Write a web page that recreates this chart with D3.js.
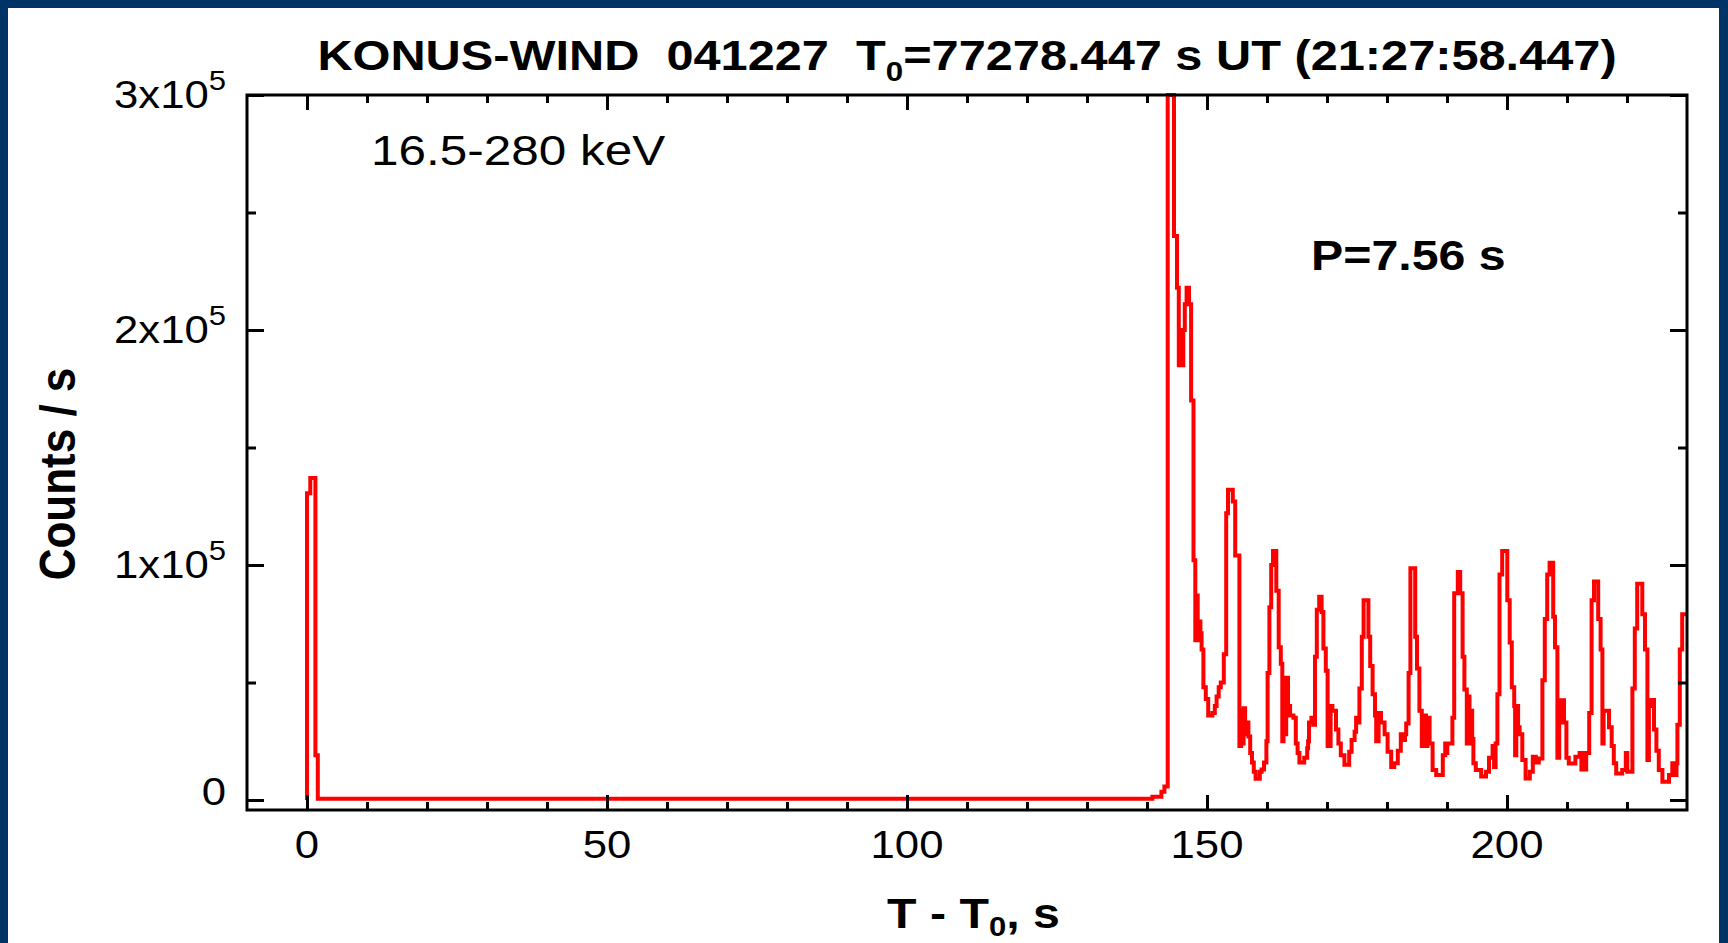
<!DOCTYPE html>
<html>
<head>
<meta charset="utf-8">
<title>KONUS-WIND 041227</title>
<script src="https://cdn.jsdelivr.net/npm/d3@7"></script>
<style>
  body { margin: 0; background: #ffffff; }
  svg { display: block; }
  text { font-family: "Liberation Sans", Arial, Helvetica, sans-serif; fill: #000; white-space: pre; }
</style>
</head>
<body>
<svg id="chart" width="1728" height="943"></svg>
<script>
// ---- Light curve, 16.5-280 keV: [time since T0 (s), counts / s], step-after bins ----
const precursorSpike = [[0, 0], [0, 130500], [0.55, 137000], [1.4, 19000], [1.8, 500]];
const preFlareRise = [[140.9, 1400], [142.4, 3500], [142.9, 5700]];
const mainSpike = [
  [143.45, 400000], [144.5, 240000], [145.0, 218000], [145.3, 185000], [145.6, 200000],
  [145.85, 185000], [146.05, 200000], [146.3, 211000], [146.6, 218000], [147.0, 211000],
  [147.35, 170000], [147.75, 102000], [148.05, 68000], [148.25, 87000], [148.45, 68000],
  [148.65, 76000], [148.9, 71000], [149.1, 64000], [149.4, 48000], [149.8, 43000],
  [150.2, 36000], [150.9, 37000], [151.3, 40000], [151.6, 44000], [151.95, 48000],
  [152.3, 50000], [152.8, 62000]
];
const pulsatingTail = [
  [153.2, 122000], [153.5, 132000], [154.3, 127000], [154.7, 104000], [155.4, 23000],
  [155.7, 38000], [155.9, 24000], [156.1, 39000], [156.35, 28000], [156.6, 33000],
  [156.9, 27000], [157.2, 20000], [157.5, 16000], [157.8, 12000], [158.1, 9000],
  [158.8, 12000], [159.1, 13000], [159.5, 16000], [159.9, 25000], [160.1, 54000],
  [160.4, 82000], [160.7, 100000], [161.0, 106000], [161.55, 89000], [161.95, 65000],
  [162.3, 58000], [162.55, 25000], [162.75, 50000], [162.95, 28000], [163.2, 52000],
  [163.5, 40000], [163.85, 36000], [164.4, 35000], [164.8, 24000], [165.1, 20000],
  [165.4, 16000], [166.2, 18000], [166.7, 22000], [166.85, 25000], [167.0, 33000],
  [167.4, 35000], [167.7, 32000], [168.0, 61000], [168.3, 81000], [168.7, 86500],
  [169.1, 80000], [169.4, 64500], [169.8, 55000], [170.1, 23000], [170.35, 36000],
  [170.5, 23000], [170.6, 40000], [170.9, 38000], [171.5, 30000], [171.9, 24000],
  [172.3, 19000], [172.9, 15000], [173.7, 20500], [174.1, 25500], [174.6, 29000],
  [174.85, 35000], [175.1, 33000], [175.4, 47500], [175.8, 69500], [176.1, 85000],
  [176.9, 69500], [177.2, 57000], [177.6, 45000], [178.0, 36000], [178.2, 25000],
  [178.4, 36000], [178.5, 25000], [178.6, 37000], [179.0, 33000], [179.6, 28000],
  [180.1, 20500], [180.7, 14000], [181.2, 15600], [181.8, 21000], [182.3, 28000],
  [182.7, 25500], [183.0, 28000], [183.2, 32600], [183.6, 54000], [183.9, 98600],
  [184.7, 69500], [185.0, 56000], [185.4, 38000], [185.8, 23000], [185.95, 36000],
  [186.5, 23000], [186.75, 35000], [187.1, 24000], [187.6, 12800], [188.2, 10600],
  [189.3, 19000], [189.7, 24000], [189.9, 20000], [190.05, 24000], [190.9, 35000],
  [191.2, 88000], [191.8, 97000], [192.2, 88000], [192.6, 61000], [192.9, 47000],
  [193.3, 24000], [193.5, 44000], [193.75, 24000], [194.0, 38000], [194.2, 26000],
  [194.4, 15600], [194.8, 12800], [195.7, 10000], [196.5, 12000], [197.0, 18000],
  [197.6, 23000], [197.85, 14000], [198.1, 24000], [198.4, 45000], [198.75, 96000],
  [199.2, 106000], [200.05, 85000], [200.45, 67000], [200.8, 48000], [201.2, 40000],
  [201.35, 19000], [201.55, 40000], [201.85, 31000], [202.1, 28000], [202.55, 17000],
  [203.1, 9200], [203.8, 12000], [204.3, 18400], [204.8, 16000], [205.3, 17700],
  [205.9, 51000], [206.3, 77000], [206.7, 96000], [207.1, 101000], [207.7, 78000],
  [208.0, 65000], [208.4, 18000], [208.7, 33000], [208.9, 42500], [209.5, 33000],
  [209.9, 18000], [210.3, 15500], [211.4, 18400], [212.1, 20000], [212.4, 13000],
  [212.55, 20000], [213.0, 13000], [213.2, 20000], [213.7, 37000], [214.1, 85000],
  [214.5, 93000], [215.2, 77000], [215.6, 64000], [215.9, 24000], [216.1, 38000],
  [217.0, 31000], [217.45, 23000], [217.8, 15600], [218.2, 11300], [219.2, 12800],
  [219.8, 20000], [220.05, 12000], [220.9, 47500], [221.3, 73000], [221.7, 92000],
  [222.55, 79000], [223.0, 64000], [223.4, 17000], [223.65, 40000], [223.9, 42600],
  [224.5, 30000], [224.9, 21000], [225.3, 12800], [225.9, 7800], [227.0, 10600],
  [227.55, 15600], [228.1, 10600], [228.25, 15600], [228.4, 32000], [228.8, 64000],
  [229.2, 79000], [230.5, 79000]
];

// ---- Axes ----
const timeDomain = [-10, 230];
const rateDomain = [-4250, 300000];
const xMajorTicks = [0, 50, 100, 150, 200];
const xMinorTicks = [10, 20, 30, 40, 60, 70, 80, 90, 110, 120, 130, 140, 160, 170, 180, 190, 210, 220];
const yMajorTicks = [0, 100000, 200000, 300000];
const yMinorTicks = [50000, 150000, 250000];
const yTickMantissa = ["0", "1x10", "2x10", "3x10"];
const yTickExponent = ["", "5", "5", "5"];

const titleParts = { before: "KONUS-WIND  041227  T", sub: "0", after: "=77278.447 s UT (21:27:58.447)" };
const bandLabel = "16.5-280 keV";
const periodLabel = "P=7.56 s";

// ---- Layout ----
const W = 1728, H = 943;
const plot = { left: 247, right: 1687, top: 95, bottom: 810 };
const SX = 1.15;            // horizontal stretch of the lettering
const navy = "#003366";

const svg = d3.select("#chart");

svg.append("rect").attr("width", W).attr("height", H).attr("fill", navy);
svg.append("rect").attr("x", 8).attr("y", 8).attr("width", W - 17).attr("height", H - 8).attr("fill", "#fff");

const x = d3.scaleLinear().domain(timeDomain).range([plot.left, plot.right]);
const y = d3.scaleLinear().domain(rateDomain).range([plot.bottom, plot.top]);

// ---- Light curve ----
svg.append("clipPath").attr("id", "plot-clip")
  .append("rect")
  .attr("x", plot.left).attr("y", plot.top - 2)
  .attr("width", plot.right - plot.left).attr("height", plot.bottom - plot.top + 2);

const yMax = rateDomain[1];
const line = d3.line()
  .x(d => x(d[0]))
  .y(d => y(Math.min(d[1], yMax)))
  .curve(d3.curveStepAfter);

const curve = precursorSpike.concat(preFlareRise, mainSpike, pulsatingTail);

svg.append("path")
  .datum(curve)
  .attr("clip-path", "url(#plot-clip)")
  .attr("fill", "none")
  .attr("stroke", "#ff0000")
  .attr("stroke-width", 4)
  .attr("stroke-linejoin", "miter")
  .attr("d", line);

// ---- Ticks on all four sides (pointing inward) ----
function tickSet(axisGen, values, size, transform) {
  const g = svg.append("g")
    .attr("transform", transform)
    .call(axisGen.tickValues(values).tickSize(size).tickFormat(""));
  g.select(".domain").remove();
  g.selectAll(".tick line").attr("stroke", "#000").attr("stroke-width", 3);
  return g;
}
tickSet(d3.axisTop(x), xMajorTicks, 15, `translate(0,${plot.bottom})`);
tickSet(d3.axisTop(x), xMinorTicks, 8, `translate(0,${plot.bottom})`);
tickSet(d3.axisBottom(x), xMajorTicks, 15, `translate(0,${plot.top})`);
tickSet(d3.axisBottom(x), xMinorTicks, 8, `translate(0,${plot.top})`);
tickSet(d3.axisRight(y), yMajorTicks, 17, `translate(${plot.left},0)`);
tickSet(d3.axisRight(y), yMinorTicks, 9, `translate(${plot.left},0)`);
tickSet(d3.axisLeft(y), yMajorTicks, 17, `translate(${plot.right},0)`);
tickSet(d3.axisLeft(y), yMinorTicks, 9, `translate(${plot.right},0)`);

// ---- Frame ----
svg.append("rect")
  .attr("x", plot.left).attr("y", plot.top)
  .attr("width", plot.right - plot.left).attr("height", plot.bottom - plot.top)
  .attr("fill", "none").attr("stroke", "#000").attr("stroke-width", 3);

// ---- Lettering ----
function label(px, py, sx, extra) {
  return svg.append("text")
    .attr("transform", `translate(${px},${py}) scale(${sx},1)` + (extra || ""));
}

// x tick labels
xMajorTicks.forEach(v => {
  label(x(v), 858, SX).attr("text-anchor", "middle").attr("font-size", 38).text(String(v));
});

// y tick labels with power-of-ten exponent (the zero sits a little higher)
yMajorTicks.forEach((v, i) => {
  const lift = v === 0 ? 8 : 0;
  const t = label(plot.left - 21, y(v) + 13 - lift, SX).attr("text-anchor", "end").attr("font-size", 38);
  t.append("tspan").text(yTickMantissa[i]);
  if (yTickExponent[i]) {
    t.append("tspan").attr("font-size", 27).attr("dy", -18).text(yTickExponent[i]);
  }
});

// title
const title = label((plot.left + plot.right) / 2, 70, 1.16)
  .attr("text-anchor", "middle").attr("font-size", 42).attr("font-weight", "bold");
title.append("tspan").text(titleParts.before);
title.append("tspan").attr("font-size", 27).attr("dy", 11).text(titleParts.sub);
title.append("tspan").attr("dy", -11).text(titleParts.after);

// axis titles
const xTitle = label(887, 928, SX).attr("font-size", 42).attr("font-weight", "bold");
xTitle.append("tspan").text("T - T");
xTitle.append("tspan").attr("font-size", 27).attr("dy", 8).text("0");
xTitle.append("tspan").attr("dy", -8).text(", s");

label(75, 474, SX, " rotate(-90)")
  .attr("text-anchor", "middle").attr("font-size", 44).attr("font-weight", "bold")
  .text("Counts / s");

// annotations
label(371, 165, SX).attr("font-size", 43).text(bandLabel);
label(1311, 270, SX).attr("font-size", 42).attr("font-weight", "bold").text(periodLabel);
</script>
</body>
</html>
